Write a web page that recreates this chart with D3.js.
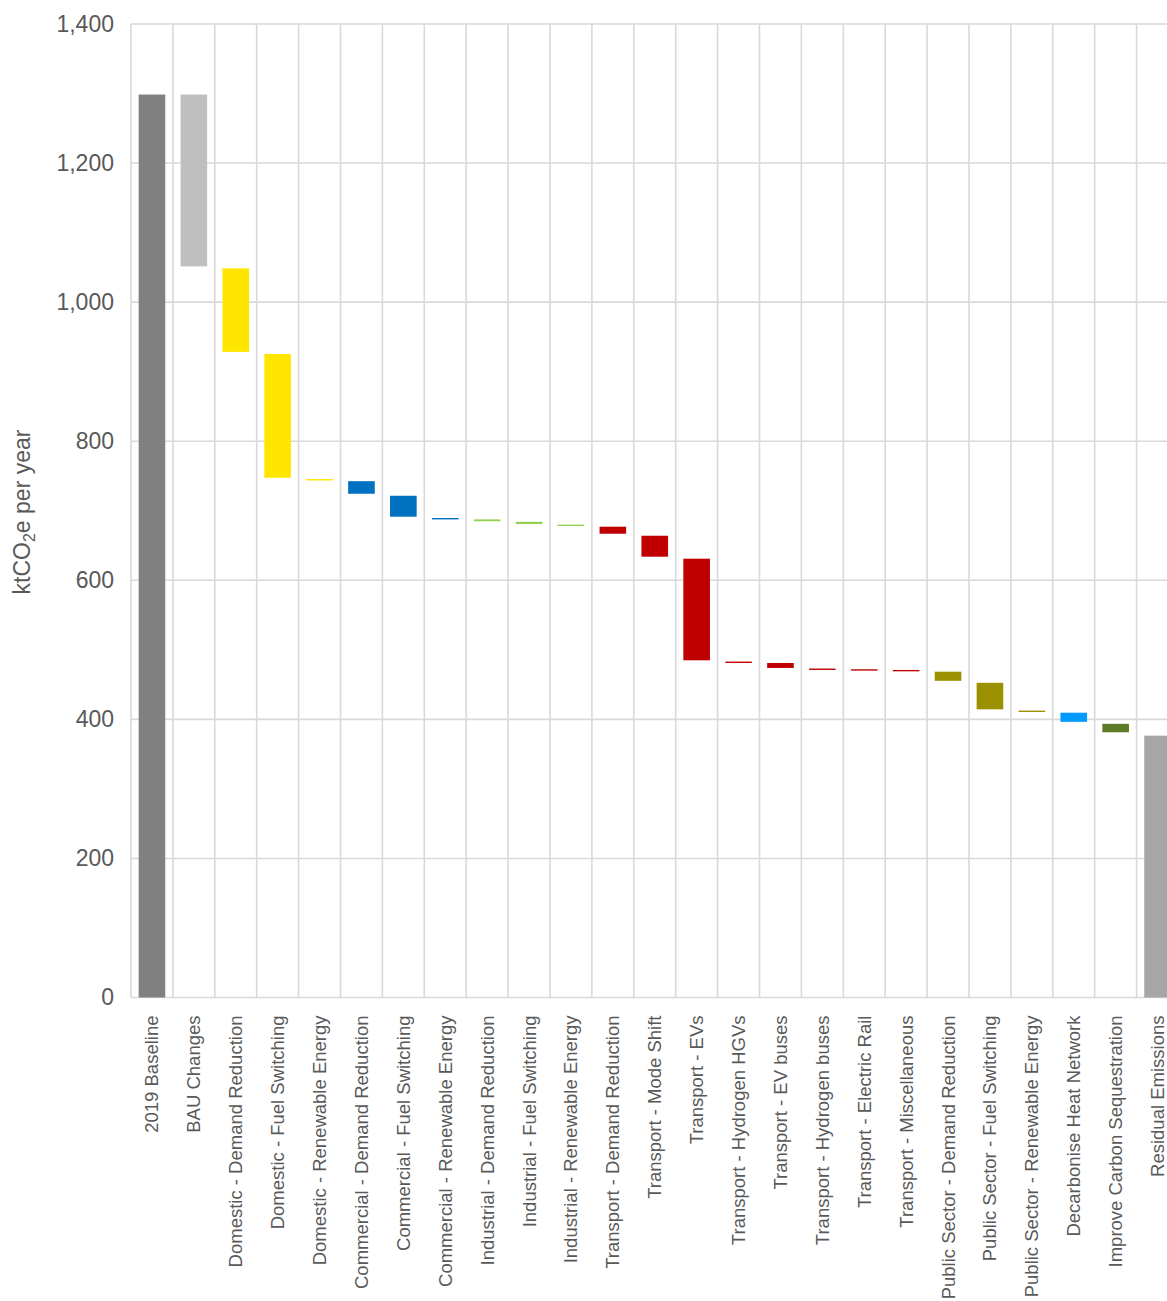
<!DOCTYPE html>
<html>
<head>
<meta charset="utf-8">
<script src="https://cdn.jsdelivr.net/npm/d3@7"></script>
<style>
  html, body { margin: 0; padding: 0; background: #fff; overflow: hidden; }
  svg { display: block; font-family: "Liberation Sans", Arial, sans-serif; }
</style>
</head>
<body>
<svg id="chart" width="1167" height="1301"></svg>
<script>
// Emission reduction steps (ktCO2e per year)
const categories = [
  "2019 Baseline", "BAU Changes",
  "Domestic - Demand Reduction", "Domestic - Fuel Switching", "Domestic - Renewable Energy",
  "Commercial - Demand Reduction", "Commercial - Fuel Switching", "Commercial - Renewable Energy",
  "Industrial - Demand Reduction", "Industrial - Fuel Switching", "Industrial - Renewable Energy",
  "Transport - Demand Reduction", "Transport - Mode Shift", "Transport - EVs",
  "Transport - Hydrogen HGVs", "Transport - EV buses", "Transport - Hydrogen buses",
  "Transport - Electric Rail", "Transport - Miscellaneous",
  "Public Sector - Demand Reduction", "Public Sector - Fuel Switching", "Public Sector - Renewable Energy",
  "Decarbonise Heat Network", "Improve Carbon Sequestration", "Residual Emissions"
];

// Baseline total, then the reduction of each measure; residual is the remaining total
const baseline = 1300;
const reductions = [250, 123, 181, 2, 21, 33, 2, 3.5, 4, 2, 13, 33, 149, 2, 8, 1, 1, 1.5, 16, 41, 2, 16, 15];
const residual = 378;

const groups = [
  "total", "bau",
  "domestic", "domestic", "domestic",
  "commercial", "commercial", "commercial",
  "industrial", "industrial", "industrial",
  "transport", "transport", "transport", "transport", "transport", "transport", "transport", "transport",
  "public", "public", "public",
  "heat", "sequestration", "residual"
];

const groupColors = {
  total: "#808080",
  bau: "#bfbfbf",
  domestic: "#ffe600",
  commercial: "#0070c0",
  industrial: "#92d050",
  transport: "#c00000",
  public: "#9a9000",
  heat: "#0099ff",
  sequestration: "#5f7a27",
  residual: "#a6a6a6"
};

const yTicks = [0, 200, 400, 600, 800, 1000, 1200, 1400];

// Build waterfall segments
const segments = [];
segments.push({ name: categories[0], hi: baseline, lo: 0, group: groups[0], floating: false });
let running = baseline;
reductions.forEach((r, i) => {
  const hi = running;
  running = running - r;
  segments.push({ name: categories[i + 1], hi: hi, lo: running, group: groups[i + 1], floating: true });
});
segments.push({ name: categories[24], hi: residual, lo: 0, group: groups[24], floating: false });

const svg = d3.select("#chart");
const plotLeft = 131, plotTop = 24, plotBottom = 997.5;
const stepPx = 41.9;

const x = d3.scaleBand()
  .domain(categories)
  .range([plotLeft, plotLeft + stepPx * categories.length])
  .paddingInner(0.365)
  .paddingOuter(0.1825);

const y = d3.scaleLinear().domain([0, 1400]).range([plotBottom, plotTop]);

const plotRight = plotLeft + stepPx * categories.length;
const gridColor = "#d9d9d9";
const textColor = "#595959";

// Horizontal gridlines
svg.append("g").selectAll("line").data(yTicks).join("line")
  .attr("x1", plotLeft).attr("x2", plotRight)
  .attr("y1", d => y(d)).attr("y2", d => y(d))
  .attr("stroke", gridColor).attr("stroke-width", 1.6);

// Vertical gridlines at category boundaries
const boundaries = d3.range(categories.length + 1);
svg.append("g").selectAll("line").data(boundaries).join("line")
  .attr("x1", i => plotLeft + i * x.step()).attr("x2", i => plotLeft + i * x.step())
  .attr("y1", y(1400)).attr("y2", y(0))
  .attr("stroke", gridColor).attr("stroke-width", 1.6);

// Bars: larger floating bars are inset slightly so neighbours do not touch
function barInset(d) {
  const h = y(d.lo) - y(d.hi);
  if (!d.floating) return [1, 0];
  return h > 6 ? [1, 1] : [0.3, 0.3];
}
svg.append("g").selectAll("rect").data(segments).join("rect")
  .attr("x", d => x(d.name))
  .attr("width", x.bandwidth())
  .attr("y", d => y(d.hi) + barInset(d)[0])
  .attr("height", d => {
    const ins = barInset(d);
    const h = y(d.lo) - y(d.hi) - ins[0] - ins[1];
    return Math.max(1.4, h);
  })
  .attr("fill", d => groupColors[d.group]);

// Y axis labels
const yAxis = d3.axisLeft(y).tickValues(yTicks).tickSize(0).tickPadding(0)
  .tickFormat(d3.format(","));
const yg = svg.append("g").attr("transform", "translate(114,0)").call(yAxis);
yg.select(".domain").remove();
yg.selectAll("text")
  .attr("fill", textColor)
  .style("font-size", "23px")
  .style("font-family", "'Liberation Sans', Arial, sans-serif");

// X axis labels (rotated)
const xAxis = d3.axisBottom(x).tickSize(0).tickPadding(0);
const xg = svg.append("g").attr("transform", `translate(0,${plotBottom})`).call(xAxis);
xg.select(".domain").remove();
xg.selectAll("text")
  .attr("fill", textColor)
  .style("font-size", "18.5px")
  .style("font-family", "'Liberation Sans', Arial, sans-serif")
  .attr("text-anchor", "end")
  .attr("dy", "0.35em")
  .attr("transform", "translate(0,18) rotate(-90)")
  .attr("x", 0).attr("y", 0);

// Y axis title
const title = svg.append("text")
  .attr("transform", "translate(30,512) rotate(-90)")
  .attr("text-anchor", "middle")
  .attr("fill", textColor)
  .style("font-size", "23px");
title.append("tspan").text("ktCO");
title.append("tspan").attr("dy", 5).style("font-size", "16px").text("2");
title.append("tspan").attr("dy", -5).text("e per year");
</script>
</body>
</html>
